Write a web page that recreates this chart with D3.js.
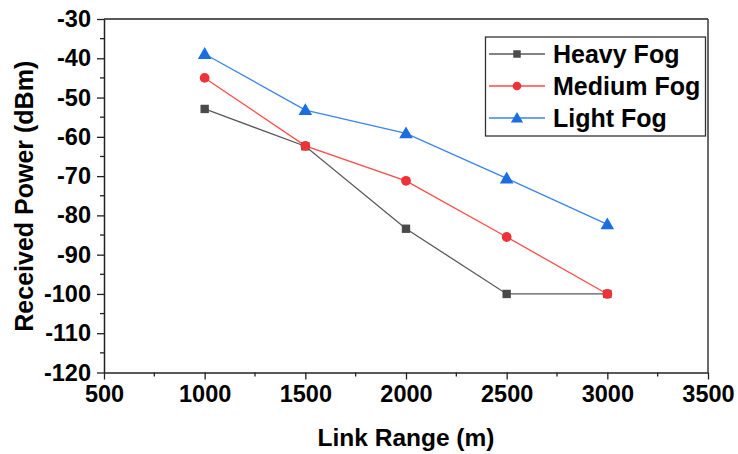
<!DOCTYPE html>
<html><head><meta charset="utf-8">
<script src="https://cdn.jsdelivr.net/npm/d3@7/dist/d3.min.js"></script>
<style>body{margin:0;background:#fff}svg{display:block;font-family:"Liberation Sans",Arial,sans-serif;font-weight:bold}</style>
</head><body>
<svg id="c" width="738" height="454"></svg>
<script>
const linkRange = [1000, 1500, 2000, 2500, 3000];
const heavyFog = [-52.9, -62.4, -83.4, -100, -100];
const mediumFog = [-45.0, -62.3, -71.2, -85.5, -100];
const lightFog = [-38.9, -53.2, -59.1, -70.6, -82.3];
const xTicks = [500, 1000, 1500, 2000, 2500, 3000, 3500];
const yTicks = [-30, -40, -50, -60, -70, -80, -90, -100, -110, -120];
const seriesNames = ["Heavy Fog", "Medium Fog", "Light Fog"];

const series = [
  {name: seriesNames[0], values: heavyFog, line: "#5a5a5a", fill: "#4a4a4a", shape: d3.symbolSquare, size: 70},
  {name: seriesNames[1], values: mediumFog, line: "#ff4a4a", fill: "#ee3338", shape: d3.symbolCircle, size: 75},
  {name: seriesNames[2], values: lightFog, line: "#3a84ee", fill: "#1a6ee0", shape: d3.symbolTriangle, size: 80}
];

const svg = d3.select("#c");
const L = 104, R = 708, T = 19, B = 372.5;
const x = d3.scaleLinear().domain([500, 3500]).range([L, R]);
const y = d3.scaleLinear().domain([-120, -30]).range([B, T]);

const axisColor = "#222";
// frame
svg.append("line").attr("x1", L).attr("x2", R).attr("y1", T).attr("y2", T).attr("stroke", axisColor).attr("stroke-width", 1.3);
svg.append("line").attr("x1", R).attr("x2", R).attr("y1", T).attr("y2", B).attr("stroke", "#444").attr("stroke-width", 1.6);

// minor ticks
const minorX = d3.range(750, 3500, 500);
const minorY = d3.range(-115, -30, 10);
svg.append("g").selectAll("line").data(minorX).join("line")
  .attr("x1", d => x(d)).attr("x2", d => x(d)).attr("y1", B).attr("y2", B + 4)
  .attr("stroke", axisColor).attr("stroke-width", 1.3);
svg.append("g").selectAll("line").data(minorY).join("line")
  .attr("y1", d => y(d)).attr("y2", d => y(d)).attr("x1", L).attr("x2", L - 4)
  .attr("stroke", axisColor).attr("stroke-width", 1.3);

const xAxis = svg.append("g").attr("transform", `translate(0,${B})`)
  .call(d3.axisBottom(x).tickValues(xTicks).tickSize(7).tickSizeOuter(0).tickPadding(6).tickFormat(d3.format("d")));
const yAxis = svg.append("g").attr("transform", `translate(${L},0)`)
  .call(d3.axisLeft(y).tickValues(yTicks).tickSize(7).tickSizeOuter(0).tickPadding(6).tickFormat(d => String(d)));
[xAxis, yAxis].forEach(a => {
  a.select(".domain").attr("stroke", axisColor).attr("stroke-width", 1.5);
  a.selectAll(".tick line").attr("stroke", axisColor).attr("stroke-width", 1.3);
  a.selectAll(".tick text").attr("fill", "#000").style("font-size", "23.5px").style("font-weight", "bold").style("font-family", '"Liberation Sans",Arial,sans-serif');
});
xAxis.selectAll(".tick text").attr("dy", "0.71em").attr("y", 13);
yAxis.selectAll(".tick text").attr("x", -13);

// titles
svg.append("text").attr("x", (L + R) / 2).attr("y", 446).attr("text-anchor", "middle")
  .style("font-size", "24.5px").text("Link Range (m)");
svg.append("text").attr("transform", `translate(33,${(T + B) / 2 + 0.5}) rotate(-90)`).attr("text-anchor", "middle")
  .style("font-size", "25px").text("Received Power (dBm)");

// series
const line = d3.line().x((d, i) => x(linkRange[i])).y(d => y(d));
series.forEach(s => {
  svg.append("path").datum(s.values).attr("d", line).attr("fill", "none")
    .attr("stroke", s.line).attr("stroke-width", 1.3);
});
series.forEach(s => {
  svg.append("g").selectAll("path").data(s.values).join("path")
    .attr("transform", (d, i) => `translate(${x(linkRange[i])},${y(d) + (s.shape === d3.symbolTriangle ? 1 : 0)})`)
    .attr("d", d3.symbol().type(s.shape).size(s.size)).attr("fill", s.fill);
});

// legend
const lg = svg.append("g");
lg.append("rect").attr("x", 485.5).attr("y", 37).attr("width", 220).attr("height", 99)
  .attr("fill", "#fff").attr("stroke", "#333").attr("stroke-width", 1.3);
series.forEach((s, i) => {
  const cy = 54 + i * 32;
  lg.append("line").attr("x1", 489).attr("x2", 545).attr("y1", cy).attr("y2", cy).attr("stroke", s.line).attr("stroke-width", 1.3);
  lg.append("path").attr("transform", `translate(517,${cy + (s.shape === d3.symbolTriangle ? 1 : 0)})`)
    .attr("d", d3.symbol().type(s.shape).size(s.size * 0.8)).attr("fill", s.fill);
  lg.append("text").attr("x", 553).attr("y", cy).attr("dy", "0.36em").style("font-size", "25px").text(s.name);
});
</script>
</body></html>
